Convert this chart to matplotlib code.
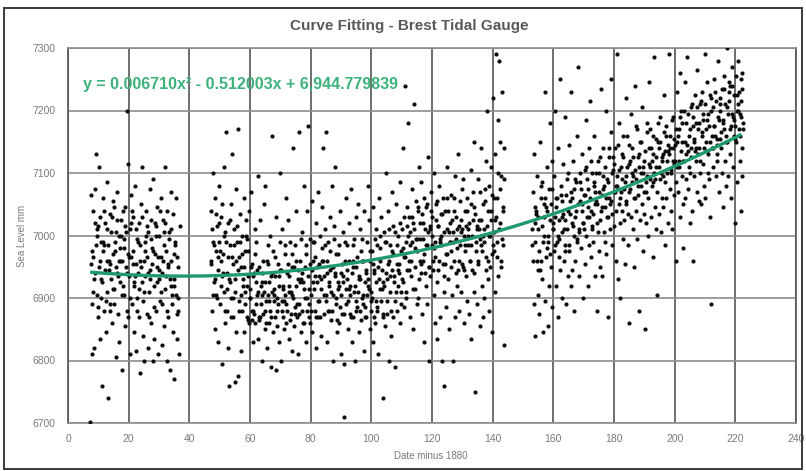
import matplotlib
matplotlib.use("Agg")
import matplotlib.pyplot as plt
import numpy as np
from matplotlib.patches import Rectangle

plt.rcParams["font.family"] = ["Liberation Sans", "DejaVu Sans"]

TITLE = "Curve Fitting - Brest Tidal Gauge"
X_LABEL = "Date minus 1880"
Y_LABEL = "Sea Level mm"
X_TICKS = [0, 20, 40, 60, 80, 100, 120, 140, 160, 180, 200, 220, 240]
Y_TICKS = [6700, 6800, 6900, 7000, 7100, 7200, 7300]

# polynomial trendline coefficients as printed on the chart (x^2, x, 1)
TREND_COEFFS = [0.006710, -0.512003, 6944.779839]
TREND_RANGE = [7.3, 222.0]
TREND_TEXT = "y = 0.006710x\u00b2 - 0.512003x + 6,944.779839"

X_EARLY = [
    7.3, 7.5, 7.6, 7.8, 7.9,
    8.1, 8.3, 8.5, 8.7, 8.9,
    9.1, 9.3, 9.5, 9.7, 9.9,
    10.1, 10.3, 10.5, 10.7, 10.9,
    11.1, 11.3, 11.5, 11.7, 11.9,
    12.1, 12.3, 12.5, 12.7, 12.9,
    13.1, 13.3, 13.5, 13.7, 13.9,
    14.1, 14.3, 14.5, 14.7, 14.9,
    15.1, 15.3, 15.5, 15.7, 15.9,
    16.1, 16.3, 16.5, 16.7, 16.9,
    17.1, 17.3, 17.5, 17.7, 17.9,
    18.1, 18.3, 18.5, 18.7, 18.9,
    19.1, 19.3, 19.5, 19.7, 19.9,
    20.1, 20.3, 20.5, 20.7, 20.9,
    21.1, 21.3, 21.5, 21.7, 21.9,
    22.1, 22.3, 22.5, 22.7, 22.9,
    23.1, 23.3, 23.5, 23.7, 23.9,
    24.1, 24.3, 24.5, 24.7, 24.9,
    25.1, 25.3, 25.5, 25.7, 25.9,
    26.1, 26.3, 26.5, 26.7, 26.9,
    27.1, 27.3, 27.5, 27.7, 27.9,
    28.1, 28.3, 28.5, 28.7, 28.9,
    29.1, 29.3, 29.5, 29.7, 29.9,
    30.1, 30.3, 30.5, 30.7, 30.9,
    31.1, 31.3, 31.5, 31.7, 31.9,
    32.1, 32.3, 32.5, 32.7, 32.9,
    33.1, 33.3, 33.5, 33.7, 33.9,
    34.1, 34.3, 34.5, 34.7, 34.9,
    35.1, 35.3, 35.5, 35.7, 35.9,
    36.1, 36.3, 36.5,
]
Y_EARLY = [
    6702, 6955, 7065, 6890, 6810,
    6965, 7040, 6930, 6820, 7075,
    6985, 7130, 6905, 7010, 6870,
    7110, 6950, 6835, 7030, 6990,
    6760, 6925, 7060, 6975, 6880,
    6945, 7020, 6845, 6910, 7085,
    6740, 6985, 6960, 6890, 7035,
    7005, 6930, 6860, 7055, 6970,
    6915, 7045, 6990, 6805, 6950,
    7070, 6940, 6875, 7000, 6830,
    6980, 6925, 7025, 6960, 6785,
    7040, 6905, 6995, 6855, 7015,
    6950, 7200, 6880, 7115, 6970,
    6935, 7010, 6810, 6965, 7065,
    6890, 6975, 7030, 6920, 6845,
    7080, 6955, 6815, 6995, 6900,
    6940, 6870, 7020, 6985, 6780,
    7050, 6925, 7110, 6840, 6960,
    6800, 6990, 6935, 7040, 6875,
    6965, 6820, 7005, 6910, 7075,
    6945, 6860, 7025, 6980, 6800,
    7090, 6920, 6835, 6970, 7015,
    6880, 6950, 7045, 6810, 6930,
    7000, 6895, 6965, 7060, 6825,
    6940, 7025, 6855, 6985, 7110,
    6915, 6975, 6800, 7040, 6950,
    6870, 7005, 6930, 6785, 7070,
    6960, 6890, 7035, 6845, 6920,
    6770, 6990, 6905, 7060, 6835,
    6950, 6880, 6810,
]
# extra readings in the crowded central band
X_EARLY_CORE = [
    8.0, 8.4, 8.8, 9.0, 9.4, 9.8, 10.0, 10.4, 10.8, 11.0, 11.4, 11.8,
    12.0, 12.4, 12.8, 13.0, 13.4, 13.8, 14.0, 14.4, 14.8, 15.0, 15.4, 15.8,
    16.0, 16.4, 16.8, 17.0, 17.4, 17.8, 18.0, 18.4, 18.8, 19.0, 19.4, 19.8,
    20.0, 20.4, 20.8, 21.0, 21.4, 21.8, 22.0, 22.4, 22.8, 23.0, 23.4, 23.8,
    24.0, 24.4, 24.8, 25.0, 25.4, 25.8, 26.0, 26.4, 26.8, 27.0, 27.4, 27.8,
    28.0, 28.4, 28.8, 29.0, 29.4, 29.8, 30.0, 30.4, 30.8, 31.0, 31.4, 31.8,
    32.0, 32.4, 32.8, 33.0, 33.4, 33.8, 34.0, 34.4, 34.8, 35.0, 35.4, 35.8,
    36.0, 36.4, 36.8,
]
Y_EARLY_CORE = [
    6975, 6910, 7020, 6940, 7000, 6885, 7015, 6960, 6900, 6930, 6990, 7040,
    6985, 6895, 6960, 7010, 6945, 6880, 6955, 7030, 6915, 6890, 6975, 7005,
    7025, 6935, 6960, 6960, 7000, 6905, 6920, 6980, 7045, 7005, 6940, 6870,
    6965, 6900, 7020, 7040, 6955, 6925, 6935, 7010, 6880, 6990, 6915, 6960,
    6950, 7030, 6895, 6910, 6975, 7000, 7015, 6940, 6870, 6930, 6995, 6955,
    6975, 6885, 7020, 7000, 6925, 6965, 6945, 7040, 6910, 6890, 6960, 7005,
    7020, 6935, 6880, 6955, 6995, 6920, 7010, 6905, 6970, 6930, 6985, 6875,
    6965, 6900, 7015,
]

X_MID = [
    47.1, 47.3, 47.5, 47.7, 47.9,
    48.1, 48.3, 48.5, 48.7, 48.9,
    49.1, 49.3, 49.5, 49.7, 49.9,
    50.1, 50.3, 50.5, 50.7, 50.9,
    51.1, 51.3, 51.5, 51.7, 51.9,
    52.1, 52.3, 52.5, 52.7, 52.9,
    53.1, 53.3, 53.5, 53.7, 53.9,
    54.1, 54.3, 54.5, 54.7, 54.9,
    55.1, 55.3, 55.5, 55.7, 55.9,
    56.1, 56.3, 56.5, 56.7, 56.9,
    57.1, 57.3, 57.5, 57.7, 57.9,
    58.1, 58.3, 58.5, 58.7, 58.9,
    59.1, 59.3, 59.5, 59.7, 59.9,
    60.1, 60.3, 60.5, 60.7, 60.9,
    61.1, 61.3, 61.5, 61.7, 61.9,
    62.1, 62.3, 62.5, 62.7, 62.9,
    63.1, 63.3, 63.5, 63.7, 63.9,
    64.1, 64.3, 64.5, 64.7, 64.9,
    65.1, 65.3, 65.5, 65.7, 65.9,
    66.1, 66.3, 66.5, 66.7, 66.9,
    67.1, 67.3, 67.5, 67.7, 67.9,
    68.1, 68.3, 68.5, 68.7, 68.9,
    69.1, 69.3, 69.5, 69.7, 69.9,
    70.1, 70.3, 70.5, 70.7, 70.9,
    71.1, 71.3, 71.5, 71.7, 71.9,
    72.1, 72.3, 72.5, 72.7, 72.9,
    73.1, 73.3, 73.5, 73.7, 73.9,
    74.1, 74.3, 74.5, 74.7, 74.9,
    75.1, 75.3, 75.5, 75.7, 75.9,
    76.1, 76.3, 76.5, 76.7, 76.9,
    77.1, 77.3, 77.5, 77.7, 77.9,
    78.1, 78.3, 78.5, 78.7, 78.9,
    79.1, 79.3, 79.5, 79.7, 79.9,
    80.1, 80.3, 80.5, 80.7, 80.9,
    81.1, 81.3, 81.5, 81.7, 81.9,
    82.1, 82.3, 82.5, 82.7, 82.9,
    83.1, 83.3, 83.5, 83.7, 83.9,
    84.1, 84.3, 84.5, 84.7, 84.9,
    85.1, 85.3, 85.5, 85.7, 85.9,
    86.1, 86.3, 86.5, 86.7, 86.9,
    87.1, 87.3, 87.5, 87.7, 87.9,
    88.1, 88.3, 88.5, 88.7, 88.9,
    89.1, 89.3, 89.5, 89.7, 89.9,
    90.1, 90.3, 90.5, 90.7, 90.9,
    91.1, 91.3, 91.5, 91.7, 91.9,
    92.1, 92.3, 92.5, 92.7, 92.9,
    93.1, 93.3, 93.5, 93.7, 93.9,
    94.1, 94.3, 94.5, 94.7, 94.9,
    95.1, 95.3, 95.5, 95.7, 95.9,
    96.1, 96.3, 96.5, 96.7, 96.9,
    97.1, 97.3, 97.5, 97.7, 97.9,
    98.1, 98.3, 98.5, 98.7, 98.9,
    99.1, 99.3, 99.5, 99.7, 99.9,
    100.1, 100.3, 100.5, 100.7, 100.9,
    101.1, 101.3, 101.5, 101.7, 101.9,
    102.1, 102.3, 102.5, 102.7, 102.9,
    103.1, 103.3, 103.5, 103.7, 103.9,
    104.1, 104.3, 104.5, 104.7, 104.9,
    105.1, 105.3, 105.5, 105.7, 105.9,
    106.1, 106.3, 106.5, 106.7, 106.9,
    107.1, 107.3, 107.5, 107.7, 107.9,
    108.1, 108.3, 108.5, 108.7, 108.9,
    109.1, 109.3, 109.5, 109.7, 109.9,
    110.1, 110.3, 110.5, 110.7, 110.9,
    111.1, 111.3, 111.5, 111.7, 111.9,
    112.1, 112.3, 112.5, 112.7, 112.9,
    113.1, 113.3, 113.5, 113.7, 113.9,
    114.1, 114.3, 114.5, 114.7, 114.9,
    115.1, 115.3, 115.5, 115.7, 115.9,
    116.1, 116.3, 116.5, 116.7, 116.9,
    117.1, 117.3, 117.5, 117.7, 117.9,
    118.1, 118.3, 118.5, 118.7, 118.9,
    119.1, 119.3, 119.5, 119.7, 119.9,
    120.1, 120.3, 120.5, 120.7, 120.9,
    121.1, 121.3, 121.5, 121.7, 121.9,
    122.1, 122.3, 122.5, 122.7, 122.9,
    123.1, 123.3, 123.5, 123.7, 123.9,
    124.1, 124.3, 124.5, 124.7, 124.9,
    125.1, 125.3, 125.5, 125.7, 125.9,
    126.1, 126.3, 126.5, 126.7, 126.9,
    127.1, 127.3, 127.5, 127.7, 127.9,
    128.1, 128.3, 128.5, 128.7, 128.9,
    129.1, 129.3, 129.5, 129.7, 129.9,
    130.1, 130.3, 130.5, 130.7, 130.9,
    131.1, 131.3, 131.5, 131.7, 131.9,
    132.1, 132.3, 132.5, 132.7, 132.9,
    133.1, 133.3, 133.5, 133.7, 133.9,
    134.1, 134.3, 134.5, 134.7, 134.9,
    135.1, 135.3, 135.5, 135.7, 135.9,
    136.1, 136.3, 136.5, 136.7, 136.9,
    137.1, 137.3, 137.5, 137.7, 137.9,
    138.1, 138.3, 138.5, 138.7, 138.9,
    139.1, 139.3, 139.5, 139.7, 139.9,
    140.1, 140.3, 140.5, 140.7, 140.9,
    141.1, 141.3, 141.5, 141.7, 141.9,
    142.1, 142.3, 142.5, 142.7, 142.9,
    143.1, 143.3, 143.5, 143.7, 143.9,
]
Y_MID = [
    6960, 7040, 6880, 7100, 6990,
    6925, 6850, 7060, 6975, 6905,
    7015, 6945, 6830, 6990, 7080,
    6890, 7030, 6960, 6795, 6935,
    6970, 6910, 7110, 6860, 7005,
    7165, 6940, 6880, 7020, 6820,
    6760, 6985, 6925, 7050, 6900,
    7130, 6870, 6955, 7010, 6765,
    6930, 7075, 6845, 6990, 6775,
    7170, 6965, 6895, 7035, 6815,
    6950, 6880, 7000, 6920, 7060,
    6845, 6975, 6910, 7025, 6870,
    6995, 6935, 6865, 7040, 6900,
    6915, 7070, 6880, 6955, 6830,
    6880, 6940, 7010, 6860, 6925,
    6990, 6905, 6835, 7095, 6870,
    6865, 7025, 6920, 6890, 6800,
    6940, 6875, 7050, 6910, 6850,
    7080, 6895, 6960, 6820, 6905,
    6925, 6860, 7000, 6880, 6790,
    7160, 6910, 6845, 6975, 6895,
    6870, 6935, 6785, 7030, 6900,
    6955, 6890, 6830, 6920, 7100,
    6800, 6945, 6880, 7010, 6915,
    6895, 6850, 6970, 6905, 7060,
    6940, 6880, 7025, 6835, 6920,
    6865, 6990, 6910, 6815, 6950,
    7140, 6900, 6855, 6985, 6875,
    6920, 7040, 6870, 6945, 6810,
    7165, 6890, 6960, 6845, 6930,
    6880, 7005, 6925, 6860, 7080,
    6950, 6830, 6985, 6900, 7040,
    7175, 6915, 6870, 6995, 6860,
    6905, 7055, 6845, 6960, 6925,
    6990, 6880, 6935, 7020, 6820,
    6925, 6870, 7070, 6955, 6895,
    7000, 6840, 6915, 6980, 7045,
    7140, 6935, 6875, 7010, 6905,
    7165, 6960, 6830, 6990, 6920,
    6880, 7030, 6945, 6865, 7080,
    6950, 6905, 6800, 7015, 6935,
    7110, 6890, 6970, 6845, 6925,
    6915, 6985, 6860, 7040, 6810,
    6940, 6875, 7005, 6925, 6795,
    6710, 6960, 6890, 7060, 6930,
    6985, 6850, 6915, 7020, 6875,
    6905, 7075, 6940, 6830, 6960,
    6870, 6995, 6920, 6800, 7030,
    6950, 6885, 7050, 6910, 6845,
    7010, 6930, 6865, 6975, 6900,
    6890, 6960, 6815, 7040, 6925,
    6945, 6870, 6990, 6905, 7080,
    6915, 7025, 6850, 6960, 6880,
    6975, 6900, 7045, 6830, 6940,
    6860, 6995, 6925, 7010, 6885,
    6950, 6810, 7060, 6915, 6980,
    6895, 7030, 6945, 6870, 6740,
    7005, 6920, 6855, 6990, 7100,
    6930, 6875, 7040, 6960, 6800,
    6985, 6910, 6840, 7070, 6945,
    6870, 7015, 6935, 6895, 6790,
    7050, 6955, 6880, 7000, 6920,
    6940, 7085, 6860, 6975, 6910,
    7010, 6925, 7140, 6885, 6965,
    7240, 6990, 6900, 7045, 6945,
    7180, 6960, 7030, 6870, 7005,
    6935, 7075, 6990, 6850, 7020,
    7210, 6980, 6915, 7055, 6890,
    6995, 7040, 6900, 7110, 6960,
    7020, 6940, 7085, 6875, 6995,
    6960, 7060, 6830, 7010, 6920,
    7045, 6985, 6890, 7125, 6950,
    6800, 7015, 6935, 7070, 6985,
    7030, 6960, 7100, 6905, 6860,
    6990, 7050, 6925, 6835, 7015,
    6945, 7080, 6995, 6870, 7035,
    7000, 6800, 7060, 6955, 6910,
    6760, 7040, 6970, 6885, 7010,
    7110, 6930, 7005, 6850, 6990,
    6975, 7065, 6905, 7025, 6800,
    7040, 6960, 6870, 7095, 6995,
    6920, 7010, 7130, 6945, 6880,
    7055, 6985, 6910, 7025, 6955,
    6950, 7090, 6860, 7000, 7040,
    7015, 6935, 7060, 6895, 6985,
    6875, 7020, 6960, 7105, 6835,
    7000, 6945, 7070, 6910, 7150,
    6750, 7035, 6975, 6890, 7010,
    7090, 6960, 7025, 6855, 6995,
    6985, 7140, 6920, 7050, 6870,
    7010, 6900, 7075, 6965, 7120,
    7200, 7040, 6930, 7000, 6880,
    6950, 7110, 7025, 6845, 7065,
    7220, 7005, 6975, 7130, 6910,
    7290, 7060, 6990, 7185, 6935,
    7280, 7150, 7020, 6960, 7095,
    7230, 7045, 6985, 7140, 6825,
]
X_MID_CORE = [
    47.0, 47.4, 47.8, 48.0, 48.4, 48.8, 49.0, 49.4, 49.8, 50.0, 50.4, 50.8,
    51.0, 51.4, 51.8, 52.0, 52.4, 52.8, 53.0, 53.4, 53.8, 54.0, 54.4, 54.8,
    55.0, 55.4, 55.8, 56.0, 56.4, 56.8, 57.0, 57.4, 57.8, 58.0, 58.4, 58.8,
    59.0, 59.4, 59.8, 60.0, 60.4, 60.8, 61.0, 61.4, 61.8, 62.0, 62.4, 62.8,
    63.0, 63.4, 63.8, 64.0, 64.4, 64.8, 65.0, 65.4, 65.8, 66.0, 66.4, 66.8,
    67.0, 67.4, 67.8, 68.0, 68.4, 68.8, 69.0, 69.4, 69.8, 70.0, 70.4, 70.8,
    71.0, 71.4, 71.8, 72.0, 72.4, 72.8, 73.0, 73.4, 73.8, 74.0, 74.4, 74.8,
    75.0, 75.4, 75.8, 76.0, 76.4, 76.8, 77.0, 77.4, 77.8, 78.0, 78.4, 78.8,
    79.0, 79.4, 79.8, 80.0, 80.4, 80.8, 81.0, 81.4, 81.8, 82.0, 82.4, 82.8,
    83.0, 83.4, 83.8, 84.0, 84.4, 84.8, 85.0, 85.4, 85.8, 86.0, 86.4, 86.8,
    87.0, 87.4, 87.8, 88.0, 88.4, 88.8, 89.0, 89.4, 89.8, 90.0, 90.4, 90.8,
    91.0, 91.4, 91.8, 92.0, 92.4, 92.8, 93.0, 93.4, 93.8, 94.0, 94.4, 94.8,
    95.0, 95.4, 95.8, 96.0, 96.4, 96.8, 97.0, 97.4, 97.8, 98.0, 98.4, 98.8,
    99.0, 99.4, 99.8, 100.0, 100.4, 100.8, 101.0, 101.4, 101.8, 102.0, 102.4, 102.8,
    103.0, 103.4, 103.8, 104.0, 104.4, 104.8, 105.0, 105.4, 105.8, 106.0, 106.4, 106.8,
    107.0, 107.4, 107.8, 108.0, 108.4, 108.8, 109.0, 109.4, 109.8, 110.0, 110.4, 110.8,
    111.0, 111.4, 111.8, 112.0, 112.4, 112.8, 113.0, 113.4, 113.8, 114.0, 114.4, 114.8,
    115.0, 115.4, 115.8, 116.0, 116.4, 116.8, 117.0, 117.4, 117.8, 118.0, 118.4, 118.8,
    119.0, 119.4, 119.8, 120.0, 120.4, 120.8, 121.0, 121.4, 121.8, 122.0, 122.4, 122.8,
    123.0, 123.4, 123.8, 124.0, 124.4, 124.8, 125.0, 125.4, 125.8, 126.0, 126.4, 126.8,
    127.0, 127.4, 127.8, 128.0, 128.4, 128.8, 129.0, 129.4, 129.8, 130.0, 130.4, 130.8,
    131.0, 131.4, 131.8, 132.0, 132.4, 132.8, 133.0, 133.4, 133.8, 134.0, 134.4, 134.8,
    135.0, 135.4, 135.8, 136.0, 136.4, 136.8, 137.0, 137.4, 137.8, 138.0, 138.4, 138.8,
    139.0, 139.4, 139.8, 140.0, 140.4, 140.8, 141.0, 141.4, 141.8, 142.0, 142.4, 142.8,
    143.0, 143.4, 143.8,
]
Y_MID_CORE = [
    6955, 7010, 6905, 6985, 6930, 7035, 6900, 6965, 7020, 6975, 6920, 7050,
    6940, 7000, 6880, 6990, 6915, 6965, 6930, 7025, 6870, 6965, 6900, 6985,
    6910, 6960, 7015, 6945, 6880, 6990, 6905, 6970, 6930, 6950, 6890, 7000,
    6920, 6975, 6860, 6900, 6950, 6865, 6935, 6875, 6970, 6890, 6945, 6910,
    6950, 6870, 6925, 6905, 6960, 6880, 6925, 6860, 6985, 6955, 6895, 6935,
    6870, 6940, 6905, 6915, 6965, 6855, 6880, 6935, 6990, 6945, 6895, 6870,
    6920, 6985, 6860, 6890, 6955, 6910, 6935, 6875, 6970, 6905, 6950, 6885,
    6960, 6890, 6930, 6875, 6925, 6995, 6940, 6860, 6915, 6900, 6970, 6880,
    6935, 6890, 6955, 6880, 6945, 6990, 6915, 6965, 6870, 6950, 6895, 6935,
    6870, 6930, 6960, 6960, 6905, 6985, 6895, 6940, 6880, 6925, 6975, 6910,
    6880, 6950, 6995, 6940, 6900, 6865, 6970, 6920, 6885, 6905, 6955, 6935,
    6875, 6990, 6915, 6945, 6895, 6960, 6920, 6870, 6985, 6950, 6910, 6880,
    6895, 6965, 6930, 6935, 6880, 6995, 6960, 6905, 6870, 6885, 6940, 6920,
    6930, 6975, 6895, 6910, 6955, 6870, 6945, 6895, 6985, 6880, 6930, 7000,
    6960, 6915, 6875, 6925, 6990, 6940, 6895, 6955, 7010, 6935, 6880, 6975,
    6970, 6925, 7005, 6910, 6985, 6945, 6955, 7020, 6890, 6930, 6980, 7030,
    6965, 6910, 7015, 7000, 6945, 6985, 6960, 7030, 6915, 7010, 6950, 6995,
    6975, 7045, 6930, 6995, 6955, 7035, 7020, 6970, 6940, 6985, 7050, 7005,
    6950, 7010, 7040, 7000, 6945, 6980, 6965, 7025, 7055, 7015, 6960, 6990,
    6985, 7035, 6935, 7005, 6955, 7060, 6970, 7040, 6990, 7020, 6950, 7005,
    6990, 7060, 6940, 7030, 6980, 7015, 6960, 7005, 7075, 7010, 6945, 6985,
    6975, 7040, 7010, 7000, 6960, 7050, 6985, 7025, 6940, 7045, 6990, 7015,
    6955, 7010, 7070, 7025, 6975, 7000, 6990, 7055, 6945, 7015, 6960, 7080,
    7000, 7040, 6970, 6985, 7060, 7025, 7030, 6965, 7100, 7010, 7075, 6950,
    6995, 7040, 7090,
]

X_LATE = [
    153.1, 153.3, 153.5, 153.7, 153.9,
    154.1, 154.3, 154.5, 154.7, 154.9,
    155.1, 155.3, 155.5, 155.7, 155.9,
    156.1, 156.3, 156.5, 156.7, 156.9,
    157.1, 157.3, 157.5, 157.7, 157.9,
    158.1, 158.3, 158.5, 158.7, 158.9,
    159.1, 159.3, 159.5, 159.7, 159.9,
    160.1, 160.3, 160.5, 160.7, 160.9,
    161.1, 161.3, 161.5, 161.7, 161.9,
    162.1, 162.3, 162.5, 162.7, 162.9,
    163.1, 163.3, 163.5, 163.7, 163.9,
    164.1, 164.3, 164.5, 164.7, 164.9,
    165.1, 165.3, 165.5, 165.7, 165.9,
    166.1, 166.3, 166.5, 166.7, 166.9,
    167.1, 167.3, 167.5, 167.7, 167.9,
    168.1, 168.3, 168.5, 168.7, 168.9,
    169.1, 169.3, 169.5, 169.7, 169.9,
    170.1, 170.3, 170.5, 170.7, 170.9,
    171.1, 171.3, 171.5, 171.7, 171.9,
    172.1, 172.3, 172.5, 172.7, 172.9,
    173.1, 173.3, 173.5, 173.7, 173.9,
    174.1, 174.3, 174.5, 174.7, 174.9,
    175.1, 175.3, 175.5, 175.7, 175.9,
    176.1, 176.3, 176.5, 176.7, 176.9,
    177.1, 177.3, 177.5, 177.7, 177.9,
    178.1, 178.3, 178.5, 178.7, 178.9,
    179.1, 179.3, 179.5, 179.7, 179.9,
    180.1, 180.3, 180.5, 180.7, 180.9,
    181.1, 181.3, 181.5, 181.7, 181.9,
    182.1, 182.3, 182.5, 182.7, 182.9,
    183.1, 183.3, 183.5, 183.7, 183.9,
    184.1, 184.3, 184.5, 184.7, 184.9,
    185.1, 185.3, 185.5, 185.7, 185.9,
    186.1, 186.3, 186.5, 186.7, 186.9,
    187.1, 187.3, 187.5, 187.7, 187.9,
    188.1, 188.3, 188.5, 188.7, 188.9,
    189.1, 189.3, 189.5, 189.7, 189.9,
    190.1, 190.3, 190.5, 190.7, 190.9,
    191.1, 191.3, 191.5, 191.7, 191.9,
    192.1, 192.3, 192.5, 192.7, 192.9,
    193.1, 193.3, 193.5, 193.7, 193.9,
    194.1, 194.3, 194.5, 194.7, 194.9,
    195.1, 195.3, 195.5, 195.7, 195.9,
    196.1, 196.3, 196.5, 196.7, 196.9,
    197.1, 197.3, 197.5, 197.7, 197.9,
    198.1, 198.3, 198.5, 198.7, 198.9,
    199.1, 199.3, 199.5, 199.7, 199.9,
    200.1, 200.3, 200.5, 200.7, 200.9,
    201.1, 201.3, 201.5, 201.7, 201.9,
    202.1, 202.3, 202.5, 202.7, 202.9,
    203.1, 203.3, 203.5, 203.7, 203.9,
    204.1, 204.3, 204.5, 204.7, 204.9,
    205.1, 205.3, 205.5, 205.7, 205.9,
    206.1, 206.3, 206.5, 206.7, 206.9,
    207.1, 207.3, 207.5, 207.7, 207.9,
    208.1, 208.3, 208.5, 208.7, 208.9,
    209.1, 209.3, 209.5, 209.7, 209.9,
    210.1, 210.3, 210.5, 210.7, 210.9,
    211.1, 211.3, 211.5, 211.7, 211.9,
    212.1, 212.3, 212.5, 212.7, 212.9,
    213.1, 213.3, 213.5, 213.7, 213.9,
    214.1, 214.3, 214.5, 214.7, 214.9,
    215.1, 215.3, 215.5, 215.7, 215.9,
    216.1, 216.3, 216.5, 216.7, 216.9,
    217.1, 217.3, 217.5, 217.7, 217.9,
    218.1, 218.3, 218.5, 218.7, 218.9,
    219.1, 219.3, 219.5, 219.7, 219.9,
    220.1, 220.3, 220.5, 220.7, 220.9,
    221.1, 221.3, 221.5, 221.7, 221.9,
    222.0, 222.1, 222.2, 222.3, 222.4,
]
Y_LATE = [
    6985, 7070, 6890, 7130, 7020,
    6840, 7040, 6960, 7095, 6905,
    7010, 6875, 7150, 6945, 7060,
    6930, 7085, 6990, 6845, 7030,
    7230, 6895, 7045, 6965, 7110,
    6855, 7000, 7075, 6920, 7180,
    7050, 6950, 7120, 6885, 7010,
    6975, 7095, 7030, 7200, 6920,
    7060, 6990, 6870, 7140, 7025,
    7250, 6945, 7080, 7005, 6900,
    7035, 7115, 6960, 7190, 6985,
    6890, 7065, 7010, 6935, 7100,
    7145, 6975, 7055, 7230, 6920,
    7020, 6945, 7120, 6880, 7075,
    6960, 7090, 7040, 7160, 6995,
    7270, 7010, 6935, 7085, 7055,
    6980, 7130, 7050, 6900, 7020,
    7065, 6955, 7105, 7000, 7185,
    7030, 6920, 7075, 7140, 6985,
    7215, 7040, 6965, 7100, 7010,
    6990, 7080, 7160, 6935, 7050,
    7055, 6880, 7020, 7120, 6975,
    7100, 7025, 6950, 7235, 7065,
    6935, 7075, 7140, 7005, 6990,
    7045, 7200, 6970, 7090, 7030,
    6870, 7060, 7125, 7010, 7165,
    7250, 7035, 6985, 7105, 7070,
    7015, 7140, 6960, 7080, 7290,
    7095, 6930, 7050, 7180, 7020,
    6900, 7070, 7130, 7040, 6995,
    7160, 7025, 7085, 6955, 7220,
    7055, 7110, 6985, 7035, 7145,
    6860, 7075, 7030, 7195, 7100,
    7010, 7125, 7060, 6950, 7240,
    7090, 7040, 7170, 6995, 7065,
    6880, 7110, 7025, 7150, 7080,
    7205, 7050, 6975, 7100, 7035,
    6850, 7135, 7070, 7020, 7180,
    7060, 7000, 7115, 7245, 7090,
    7140, 7030, 7080, 6965, 7160,
    7285, 7100, 7045, 7125, 7010,
    6905, 7070, 7150, 7035, 7110,
    7090, 7190, 7005, 7120, 7060,
    7130, 7045, 7225, 7085, 6985,
    7060, 7160, 7100, 7020, 7135,
    7290, 7075, 7140, 7040, 7105,
    7010, 7120, 7190, 7065, 7155,
    7145, 7085, 6960, 7230, 7110,
    7070, 7170, 7120, 7030, 7260,
    7200, 7095, 7150, 7050, 6980,
    7120, 7245, 7060, 7180, 7090,
    7285, 7135, 7075, 7160, 7020,
    7100, 7205, 7140, 7040, 7175,
    6960, 7150, 7095, 7225, 7120,
    7180, 7070, 7265, 7130, 7055,
    7140, 7210, 7100, 7050, 7165,
    7230, 7115, 7185, 7080, 7290,
    7060, 7170, 7135, 7245, 7100,
    7195, 7090, 7150, 7030, 7220,
    6890, 7140, 7205, 7110, 7175,
    7250, 7160, 7095, 7215, 7130,
    7120, 7280, 7185, 7070, 7155,
    7200, 7140, 7235, 7100, 7045,
    7170, 7255, 7120, 7210, 7080,
    7300, 7150, 7195, 7095, 7230,
    7130, 7240, 7175, 7060, 7270,
    7190, 7110, 7225, 7160, 7020,
    7255, 7150, 7200, 7085, 7280,
    7170, 7230, 7120, 7195, 7040,
    7215, 7140, 7260, 7095, 7180,
]
X_LATE_CORE = [
    153.0, 153.4, 153.8, 154.0, 154.4, 154.8, 155.0, 155.4, 155.8, 156.0, 156.4, 156.8,
    157.0, 157.4, 157.8, 158.0, 158.4, 158.8, 159.0, 159.4, 159.8, 160.0, 160.4, 160.8,
    161.0, 161.4, 161.8, 162.0, 162.4, 162.8, 163.0, 163.4, 163.8, 164.0, 164.4, 164.8,
    165.0, 165.4, 165.8, 166.0, 166.4, 166.8, 167.0, 167.4, 167.8, 168.0, 168.4, 168.8,
    169.0, 169.4, 169.8, 170.0, 170.4, 170.8, 171.0, 171.4, 171.8, 172.0, 172.4, 172.8,
    173.0, 173.4, 173.8, 174.0, 174.4, 174.8, 175.0, 175.4, 175.8, 176.0, 176.4, 176.8,
    177.0, 177.4, 177.8, 178.0, 178.4, 178.8, 179.0, 179.4, 179.8, 180.0, 180.4, 180.8,
    181.0, 181.4, 181.8, 182.0, 182.4, 182.8, 183.0, 183.4, 183.8, 184.0, 184.4, 184.8,
    185.0, 185.4, 185.8, 186.0, 186.4, 186.8, 187.0, 187.4, 187.8, 188.0, 188.4, 188.8,
    189.0, 189.4, 189.8, 190.0, 190.4, 190.8, 191.0, 191.4, 191.8, 192.0, 192.4, 192.8,
    193.0, 193.4, 193.8, 194.0, 194.4, 194.8, 195.0, 195.4, 195.8, 196.0, 196.4, 196.8,
    197.0, 197.4, 197.8, 198.0, 198.4, 198.8, 199.0, 199.4, 199.8, 200.0, 200.4, 200.8,
    201.0, 201.4, 201.8, 202.0, 202.4, 202.8, 203.0, 203.4, 203.8, 204.0, 204.4, 204.8,
    205.0, 205.4, 205.8, 206.0, 206.4, 206.8, 207.0, 207.4, 207.8, 208.0, 208.4, 208.8,
    209.0, 209.4, 209.8, 210.0, 210.4, 210.8, 211.0, 211.4, 211.8, 212.0, 212.4, 212.8,
    213.0, 213.4, 213.8, 214.0, 214.4, 214.8, 215.0, 215.4, 215.8, 216.0, 216.4, 216.8,
    217.0, 217.4, 217.8, 218.0, 218.4, 218.8, 219.0, 219.4, 219.8, 220.0, 220.4, 220.8,
    221.0, 221.4, 221.8, 222.0, 222.2, 222.4,
]
Y_LATE_CORE = [
    7010, 6960, 7045, 6990, 7035, 6945, 7030, 6975, 7080, 6960, 7015, 7050,
    7000, 7060, 6980, 7040, 6990, 7025, 6970, 7075, 7010, 7020, 6985, 7060,
    7045, 7000, 6965, 6995, 7065, 7030, 7055, 7010, 6975, 7025, 7090, 7040,
    6985, 7035, 7070, 7060, 7015, 7000, 7030, 7085, 6990, 7050, 7005, 7100,
    7075, 7040, 7020, 7010, 7065, 7110, 7090, 7045, 7030, 7060, 7120, 7015,
    7035, 7085, 7070, 7100, 7050, 7005, 7070, 7125, 7040, 7045, 7095, 7080,
    7110, 7060, 7030, 7085, 7140, 7050, 7055, 7100, 7125, 7115, 7070, 7040,
    7080, 7145, 7105, 7060, 7110, 7090, 7125, 7075, 7050, 7095, 7160, 7115,
    7070, 7120, 7085, 7140, 7095, 7060, 7105, 7175, 7125, 7080, 7130, 7100,
    7150, 7110, 7070, 7120, 7085, 7165, 7095, 7140, 7110, 7170, 7120, 7085,
    7130, 7090, 7155, 7110, 7180, 7140, 7150, 7100, 7125, 7095, 7165, 7135,
    7175, 7120, 7145, 7130, 7160, 7100, 7185, 7140, 7115, 7120, 7170, 7150,
    7160, 7110, 7190, 7135, 7180, 7120, 7200, 7150, 7130, 7145, 7195, 7110,
    7170, 7125, 7210, 7190, 7155, 7135, 7140, 7205, 7170, 7180, 7120, 7215,
    7160, 7195, 7140, 7210, 7150, 7185, 7130, 7175, 7225, 7200, 7160, 7140,
    7175, 7230, 7155, 7145, 7190, 7210, 7220, 7165, 7185, 7180, 7235, 7150,
    7160, 7205, 7245, 7215, 7170, 7195, 7240, 7185, 7155, 7175, 7225, 7200,
    7210, 7160, 7250, 7190, 7235, 7170,
]

TITLE_GRAY = "#595959"
TICK_GRAY = "#7a7a7a"
TREND_GREEN = "#1f9a6b"
TEXT_GREEN = "#3db27b"

fig = plt.figure(figsize=(8.06, 4.71), dpi=100)
fig.patch.set_facecolor("white")
ax = fig.add_axes([68 / 806, 1 - 423 / 471, 728 / 806, 375 / 471])

series = [
    (X_EARLY, Y_EARLY), (X_EARLY_CORE, Y_EARLY_CORE),
    (X_MID, Y_MID), (X_MID_CORE, Y_MID_CORE),
    (X_LATE, Y_LATE), (X_LATE_CORE, Y_LATE_CORE),
]
for xs, ys in series:
    ax.scatter(xs, ys, s=9, c="#0d0d0d", marker="o", linewidths=0, zorder=3)

tx = np.linspace(TREND_RANGE[0], TREND_RANGE[1], 200)
ax.plot(tx, np.polyval(TREND_COEFFS, tx), color=TREND_GREEN, lw=2.4, zorder=4,
        solid_capstyle="butt")

ax.text(4.9, 7242, TREND_TEXT, color=TEXT_GREEN, fontsize=11.5, fontweight="bold",
        ha="left", va="center", zorder=5)

ax.set_xlim(X_TICKS[0], X_TICKS[-1])
ax.set_ylim(Y_TICKS[0], Y_TICKS[-1])
ax.set_xticks(X_TICKS)
ax.set_yticks(Y_TICKS)
ax.tick_params(axis="both", length=0, labelsize=7.5, labelcolor=TICK_GRAY)
ax.tick_params(axis="y", pad=9)
ax.tick_params(axis="x", pad=8)

ax.xaxis.grid(True, color="#555555", lw=1.2, zorder=0)
ax.yaxis.grid(True, color="#8c8c8c", lw=1.2, zorder=0)
ax.set_axisbelow(True)
for side in ("left", "right"):
    ax.spines[side].set_color("#555555")
    ax.spines[side].set_linewidth(1.2)
for side in ("top", "bottom"):
    ax.spines[side].set_color("#8c8c8c")
    ax.spines[side].set_linewidth(1.2)

fig.text(0.508, 1 - 26 / 471, TITLE, color=TITLE_GRAY, fontsize=11,
         fontweight="bold", ha="center", va="center")
fig.text(431 / 806, 1 - 456 / 471, X_LABEL, color=TICK_GRAY, fontsize=7,
         ha="center", va="center")
fig.text(22 / 806, 1 - 236 / 471, Y_LABEL, color=TICK_GRAY, fontsize=7,
         ha="center", va="center", rotation=90)

# outer chart frame
fig.patches.append(Rectangle((4 / 806, 2 / 471), 798 / 806, 461 / 471,
                             transform=fig.transFigure, fill=False,
                             edgecolor="#3a3a3a", lw=1.4))

fig.savefig("out.png", dpi=100, facecolor="white")
